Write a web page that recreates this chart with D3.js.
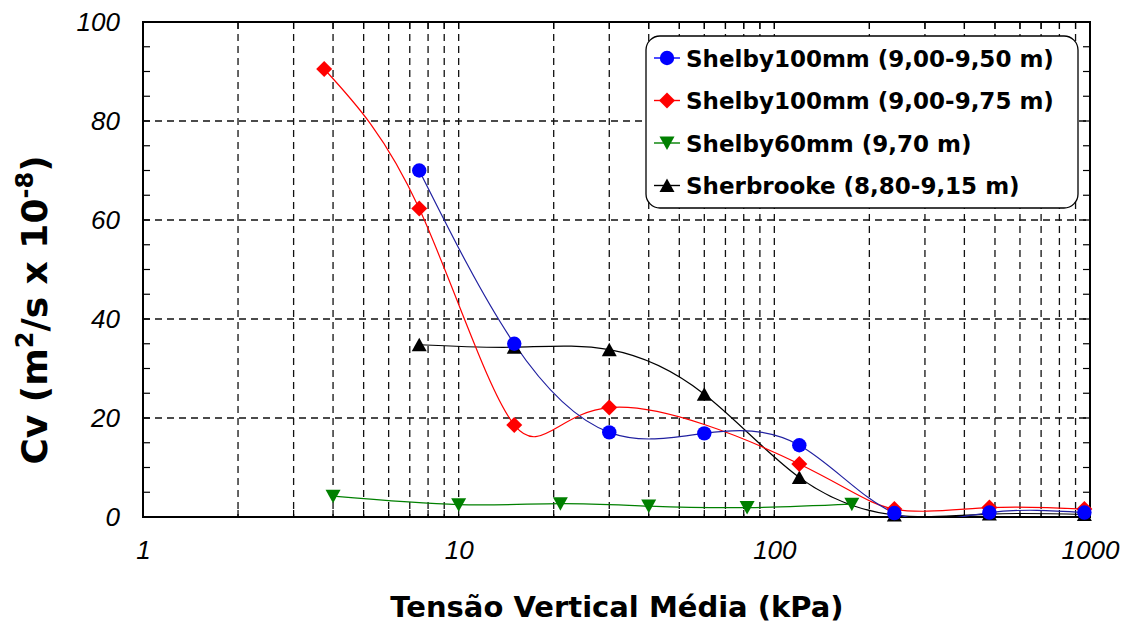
<!DOCTYPE html>
<html><head><meta charset="utf-8">
<script src="https://cdn.jsdelivr.net/npm/d3@7"></script>
<style>body{margin:0;background:#fff;}svg{display:block;}</style>
</head><body>
<svg id="c" width="1132" height="625"></svg>
<script>
const seriesNames = ["Shelby100mm (9,00-9,50 m)","Shelby100mm (9,00-9,75 m)","Shelby60mm (9,70 m)","Sherbrooke (8,80-9,15 m)"];
const blueX = [7.5,15,30,60,120,240,480,960];
const blueY = [70,35,17.1,16.9,14.5,0.8,0.9,0.9];
const redX = [3.75,7.5,15,30,120,240,480,960];
const redY = [90.5,62.3,18.6,22.1,10.7,1.6,1.9,1.6];
const greenX = [4,10,21,40,82,176];
const greenY = [4.2,2.5,2.7,2.2,1.9,2.6];
const blackX = [7.5,15,30,60,120,240,480,960];
const blackY = [34.8,34.3,33.8,24.8,8,0.4,0.6,0.5];
const xTickLabels = ["1","10","100","1000"];
const yTickLabels = ["0","20","40","60","80","100"];

const svg = d3.select("#c");
const L=143,R=1090,T=22,B=517;
const x = d3.scaleLog().domain([1,1000]).range([L,R]);
const y = d3.scaleLinear().domain([0,100]).range([B,T]);

// grid
const minor=[];
for(let d=1;d<1000;d*=10) for(let k=2;k<=9;k++) minor.push(d*k);
const g=svg.append("g");
g.selectAll("line.vx").data(minor.concat([10,100])).enter().append("line")
 .attr("x1",d=>x(d)).attr("x2",d=>x(d)).attr("y1",T).attr("y2",B)
 .attr("stroke","#111").attr("stroke-width",1.3).attr("stroke-dasharray","7,5");
g.selectAll("line.hy").data([20,40,60,80]).enter().append("line")
 .attr("x1",L).attr("x2",R).attr("y1",d=>y(d)).attr("y2",d=>y(d))
 .attr("stroke","#111").attr("stroke-width",1.3).attr("stroke-dasharray","7,5");

// axes
const fontT="'Liberation Sans', Arial, sans-serif";
const fontB="'DejaVu Sans', Verdana, sans-serif";
const ax = svg.append("g").attr("transform",`translate(0,${B})`)
 .call(d3.axisBottom(x).tickValues([1,10,100,1000]).tickFormat((d,i)=>xTickLabels[i]).tickSize(0).tickPadding(21));
const ay = svg.append("g").attr("transform",`translate(${L},0)`)
 .call(d3.axisLeft(y).tickValues([0,20,40,60,80,100]).tickFormat((d,i)=>yTickLabels[i]).tickSize(0).tickPadding(23));
[ax,ay].forEach(a=>{a.select(".domain").remove();a.selectAll("text").attr("font-family",fontT).attr("font-style","italic").attr("font-size",26).attr("fill","#000");});
ax.selectAll("text").attr("dy","0.8em");
// minor ticks inward
const yMinor=d3.range(0,101,5);
svg.append("g").selectAll("line").data(yMinor).enter().append("line")
 .attr("x1",L).attr("x2",L+7).attr("y1",d=>y(d)).attr("y2",d=>y(d)).attr("stroke","#000").attr("stroke-width",1.2);
svg.append("g").selectAll("line").data(yMinor).enter().append("line")
 .attr("x1",R).attr("x2",R-7).attr("y1",d=>y(d)).attr("y2",d=>y(d)).attr("stroke","#000").attr("stroke-width",1.2);
svg.append("g").selectAll("line").data(minor.concat([10,100])).enter().append("line")
 .attr("x1",d=>x(d)).attr("x2",d=>x(d)).attr("y1",B).attr("y2",B-7).attr("stroke","#000").attr("stroke-width",1.2);
svg.append("g").selectAll("line").data(minor.concat([10,100])).enter().append("line")
 .attr("x1",d=>x(d)).attr("x2",d=>x(d)).attr("y1",T).attr("y2",T+7).attr("stroke","#000").attr("stroke-width",1.2);
svg.append("rect").attr("x",L).attr("y",T).attr("width",R-L).attr("height",B-T)
 .attr("fill","none").attr("stroke","#000").attr("stroke-width",2);

// titles
svg.append("text").attr("x",617).attr("y",617).attr("text-anchor","middle")
 .attr("font-family",fontB).attr("font-weight","bold").attr("font-size",29).text("Tensão Vertical Média (kPa)");
const yt=svg.append("text").attr("transform","translate(47,310) rotate(-90)").attr("text-anchor","middle")
 .attr("font-family",fontB).attr("font-weight","bold").attr("font-size",36);
yt.append("tspan").text("Cv (m");
yt.append("tspan").attr("font-size",24).attr("dy",-14).text("2");
yt.append("tspan").attr("dy",14).text("/s x 10");
yt.append("tspan").attr("font-size",24).attr("dy",-14).text("-8");
yt.append("tspan").attr("dy",14).text(")");

// series
const series=[
 {xs:blueX,ys:blueY,color:"#0000ff",line:"#2020a0",shape:"circle"},
 {xs:redX,ys:redY,color:"#ff0000",line:"#ff0000",shape:"diamond"},
 {xs:greenX,ys:greenY,color:"#008000",line:"#008000",shape:"down"},
 {xs:blackX,ys:blackY,color:"#000000",line:"#000000",shape:"up"}
];
svg.append("clipPath").attr("id","pc").append("rect").attr("x",L).attr("y",T).attr("width",R-L).attr("height",B-T);
const line=d3.line().x(d=>x(d[0])).y(d=>y(d[1])).curve(d3.curveNatural);
function marker(sel,shape,color,cx,cy){
  if(shape==="circle") sel.append("circle").attr("cx",cx).attr("cy",cy).attr("r",7.2).attr("fill",color);
  else if(shape==="diamond") sel.append("path").attr("d",`M${cx},${cy-8}L${cx+8},${cy}L${cx},${cy+8}L${cx-8},${cy}Z`).attr("fill",color);
  else if(shape==="down") sel.append("path").attr("d",`M${cx-7.5},${cy-6.5}L${cx+7.5},${cy-6.5}L${cx},${cy+7}Z`).attr("fill",color);
  else sel.append("path").attr("d",`M${cx-7.5},${cy+6.5}L${cx+7.5},${cy+6.5}L${cx},${cy-7}Z`).attr("fill",color);
}
const order=[3,2,1,0];
order.forEach(i=>{
  const s=series[i];
  const pts=s.xs.map((v,j)=>[v,s.ys[j]]);
  svg.append("path").attr("d",line(pts)).attr("fill","none").attr("stroke",s.line).attr("stroke-width",1.2).attr("clip-path","url(#pc)");
});
order.forEach(i=>{
  const s=series[i];
  const gm=svg.append("g");
  s.xs.forEach((v,j)=>marker(gm,s.shape,s.color,x(v),y(s.ys[j])));
});

// legend
const lg=svg.append("g");
lg.append("rect").attr("x",646).attr("y",36).attr("width",432).attr("height",172).attr("rx",14)
 .attr("fill","#fff").attr("stroke","#000").attr("stroke-width",1.3);
series.forEach((s,i)=>{
  const yy=58+i*42.5;
  lg.append("line").attr("x1",654).attr("x2",680).attr("y1",yy).attr("y2",yy).attr("stroke",s.color).attr("stroke-width",1.4);
  marker(lg,s.shape,s.color,667,yy);
  lg.append("text").attr("x",686).attr("y",yy+8.5).attr("font-family",fontB).attr("font-weight","bold").attr("font-size",23).text(seriesNames[i]);
});
</script>
</body></html>
